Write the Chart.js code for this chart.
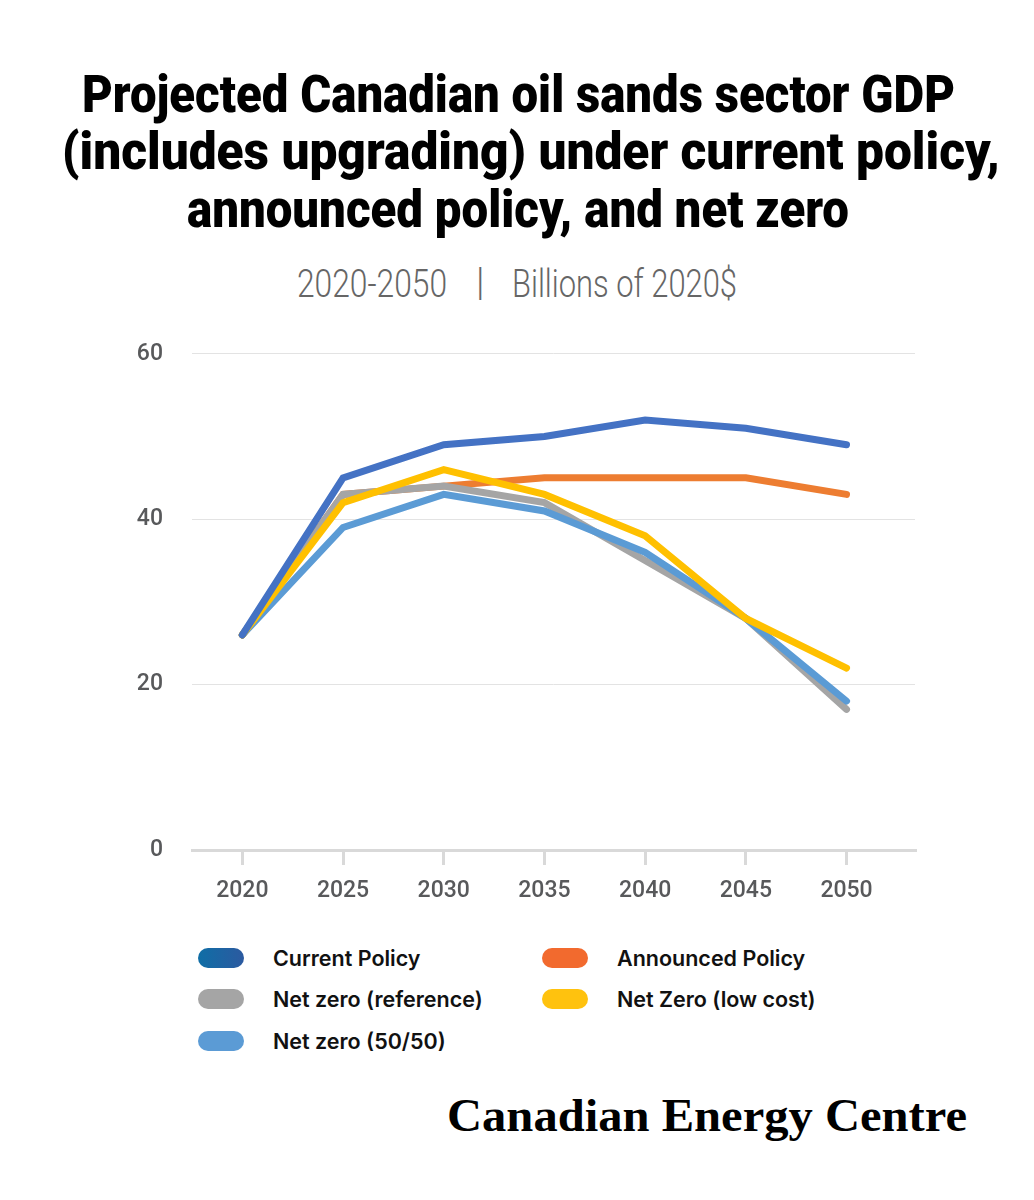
<!DOCTYPE html>
<html lang="en">
<head>
  <meta charset="UTF-8">
  <title>Oil sands GDP projections</title>
  <script src="https://cdn.jsdelivr.net/npm/chart.js@4.4.0/dist/chart.umd.min.js"></script>
  <style>
    body { margin: 0; background: #fff; width: 1034px; height: 1200px; position: relative; overflow: hidden; }
    .fit { position: absolute; white-space: nowrap; transform-origin: 0 0; }
    .title { font-family: Roboto, sans-serif; font-weight: 900; font-size: 51px; line-height: 50px; color: #000; }
    .sub { font-family: Roboto, sans-serif; font-weight: 300; font-size: 38px; line-height: 38px; color: #666; }
    #wrap { position: absolute; left: 120px; top: 311px; width: 800px; height: 592px; }
    .item { position: absolute; white-space: nowrap; height: 24px; line-height: 24px;
            font-family: Inter, sans-serif; font-weight: 600; font-size: 21.5px; color: #111; }
    .sw { position: absolute; left: 0; top: 2px; width: 46px; height: 20px; border-radius: 10px; }
    .item b { position: absolute; left: 75px; top: 0; font-weight: 600; }
    .brand { font-family: "Liberation Serif", serif; font-weight: bold; font-size: 46px; line-height: 46px; color: #000; }
  </style>
</head>
<body>
  <span class="fit title" data-w="873" style="left:82px; top:70px">Projected Canadian oil sands sector GDP</span>
  <span class="fit title" data-w="938" style="left:62px; top:127px">(includes upgrading) under current policy,</span>
  <span class="fit title" data-w="662" style="left:187px; top:185px">announced policy, and net zero</span>
  <span class="fit sub" data-w="150" style="left:297px; top:265px">2020-2050</span>
  <span class="fit sub" style="left:476px; top:263px">|</span>
  <span class="fit sub" data-w="225" style="left:512px; top:265px">Billions of 2020$</span>
  <div id="wrap"><canvas id="chart"></canvas></div>
  <div id="legend"></div>
  <span class="fit brand" data-w="520" style="left:447px; top:1093px">Canadian Energy Centre</span>
  <script>
    const years = [2020, 2025, 2030, 2035, 2040, 2045, 2050];
    const currentPolicy = [26, 45, 49, 50, 52, 51, 49];
    const announcedPolicy = [26, 43, 44, 45, 45, 45, 43];
    const netZeroReference = [26, 43, 44, 42, 35, 28, 17];
    const netZeroLowCost = [26, 42, 46, 43, 38, 28, 22];
    const netZero5050 = [26, 39, 43, 41, 36, 28, 18];
    const yTicks = [0, 20, 40, 60];

    const series = [
      { label: 'Current Policy', data: currentPolicy, color: '#4472c4', swatch: 'linear-gradient(90deg,#0f6ea6,#2c5aa0)', order: 1 },
      { label: 'Announced Policy', data: announcedPolicy, color: '#ed7d31', swatch: '#f26a2e', order: 5 },
      { label: 'Net zero (reference)', data: netZeroReference, color: '#a5a5a5', swatch: '#a5a5a5', order: 4 },
      { label: 'Net Zero (low cost)', data: netZeroLowCost, color: '#ffc000', swatch: '#ffc20e', order: 2 },
      { label: 'Net zero (50/50)', data: netZero5050, color: '#5b9bd5', swatch: '#5b9bd5', order: 3 }
    ];

    // squeeze text spans to the widths measured on the original
    document.querySelectorAll('.fit[data-w]').forEach(el => {
      const w = el.getBoundingClientRect().width;
      el.style.transform = 'scaleX(' + (el.dataset.w / w) + ')';
    });

    const tickFont = { family: 'Roboto, sans-serif', size: 23, weight: '500' };

    new Chart(document.getElementById('chart'), {
      type: 'line',
      data: {
        datasets: series.map(s => ({
          label: s.label,
          data: s.data.map((v, i) => ({ x: years[i], y: v })),
          borderColor: s.color,
          backgroundColor: s.color,
          borderWidth: 7,
          borderCapStyle: 'round',
          borderJoinStyle: 'miter',
          pointRadius: 0,
          tension: 0,
          order: s.order
        }))
      },
      options: {
        responsive: true,
        maintainAspectRatio: false,
        animation: false,
        layout: { padding: { top: 0, right: 5, left: 0, bottom: 0 } },
        plugins: { legend: { display: false }, tooltip: { enabled: false } },
        scales: {
          x: {
            type: 'linear',
            min: 2017.5,
            max: 2053.4,
            afterBuildTicks: axis => { axis.ticks = years.map(v => ({ value: v })); },
            afterFit: axis => { axis.height = 53; },
            ticks: { color: '#58595b', font: tickFont, padding: 12, callback: v => String(v) },
            grid: { drawOnChartArea: false, tickLength: 15, color: '#d9d9d9', lineWidth: 3 },
            border: { display: true, color: '#d9d9d9', width: 3 }
          },
          y: {
            min: 0,
            max: 60,
            afterBuildTicks: axis => { axis.ticks = yTicks.map(v => ({ value: v })); },
            afterFit: axis => { axis.width = 72; },
            ticks: { color: '#58595b', font: tickFont, padding: 29 },
            grid: { color: '#e3e3e3', lineWidth: 1, drawTicks: false },
            border: { display: false }
          }
        }
      }
    });

    // legend laid out in two columns like the original
    const legendPos = [[198, 946], [542, 946], [198, 987], [542, 987], [198, 1029]];
    const legend = document.getElementById('legend');
    series.forEach((s, k) => {
      const el = document.createElement('div');
      el.className = 'item';
      el.style.left = legendPos[k][0] + 'px';
      el.style.top = legendPos[k][1] + 'px';
      el.innerHTML = '<span class="sw" style="background:' + s.swatch + '"></span><b>' + s.label + '</b>';
      legend.appendChild(el);
    });
  </script>
</body>
</html>
